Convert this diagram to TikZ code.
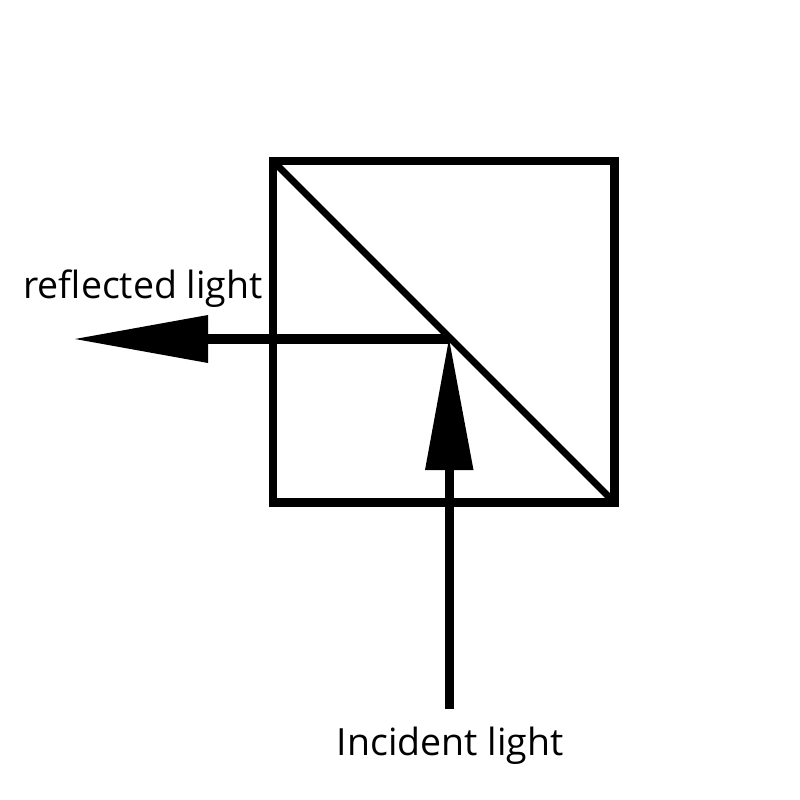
\documentclass[tikz,border=0pt]{standalone}
\usepackage{fontspec}
\setmainfont{Open Sans}
\begin{document}
\begin{tikzpicture}[x=1pt,y=-1pt,
  ray/.style={draw=black,line width=9.2pt},
  head/.style={fill=black,draw=none},
  lab/.style={inner sep=0pt,anchor=base,font=\fontsize{37.5}{44}\selectfont,text=black}]
\useasboundingbox (0,0) rectangle (800,800);
\fill[white] (0,0) rectangle (800,800);
\coordinate (tl) at (273,161);
\coordinate (br) at (614.5,502.5);
\coordinate (hit) at (449.5,339);
\coordinate (start) at (449.5,709);
\coordinate (vbase) at (449.5,470);
\coordinate (hbase) at (208,339);
% cube and beam splitter
\draw[line width=8.6pt,miter limit=10] (tl) rectangle (br);
\draw[line width=7pt] (275,163) -- (611,499);
% rays
\draw[ray] (start) -- (vbase);
\draw[ray] (hit) -- (hbase);
% arrowheads
\fill[head] (449,339) -- (473.5,470) -- (425,470) -- cycle;
\fill[head] (75,339) -- (208,315) -- (208,363) -- cycle;
% labels
\node[lab] (reflected) at (143,298) {reflected light};
\node[lab] (incident) at (450,755) {Incident light};
\end{tikzpicture}
\end{document}
